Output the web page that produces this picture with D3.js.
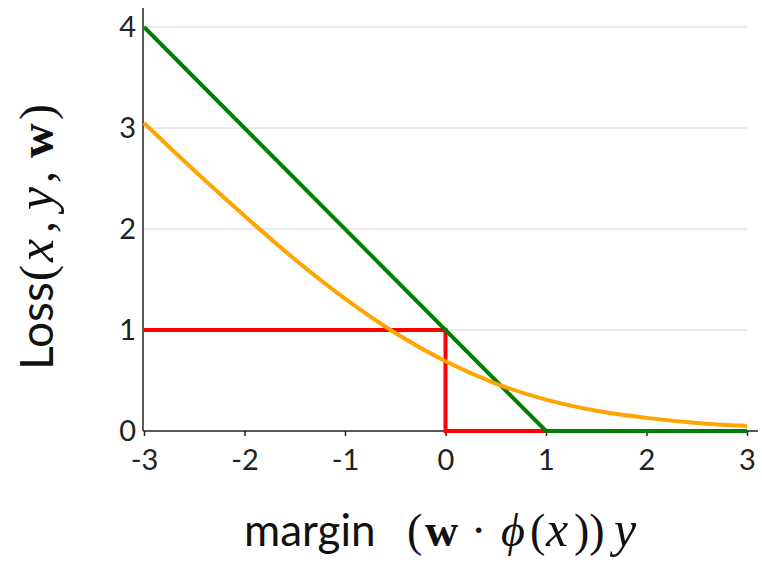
<!DOCTYPE html>
<html>
<head>
<meta charset="utf-8">
<script src="https://cdn.jsdelivr.net/npm/d3@7"></script>
<style>
	body { margin: 0; background: #fff; }
</style>
</head>
<body>
<div id="chart"></div>
<script>
const width = 762;
const height = 564;

// values
const xTicks = [-3, -2, -1, 0, 1, 2, 3];
const yTicks = [0, 1, 2, 3, 4];
const marginValues = [-3, -2.5, -2, -1.5, -1, -0.5, 0, 0.5, 1, 1.5, 2, 2.5, 3];
const logisticLoss = [3.05, 2.58, 2.13, 1.7, 1.31, 0.97, 0.69, 0.47, 0.31, 0.2, 0.13, 0.08, 0.05];
const hingeX = [-3, 1, 3];
const hingeY = [4, 0, 0];
const zeroOneX = [-3, 0, 0, 1];
const zeroOneY = [1, 1, 0, 0];

const x = d3.scaleLinear().domain([-3, 3]).range([144, 747]);
const y = d3.scaleLinear().domain([0, 4]).range([431, 27]);

const sans = "Lato, 'Open Sans', sans-serif";
const serif = "'Liberation Serif', 'DejaVu Serif', serif";

const svg = d3.select("#chart")
	.append("svg")
	.attr("width", width)
	.attr("height", height);

// gridlines
svg.append("g")
	.selectAll("line")
	.data(yTicks.filter((t) => t > 0))
	.enter()
	.append("line")
	.attr("x1", x(-3))
	.attr("x2", x(3))
	.attr("y1", (d) => y(d))
	.attr("y2", (d) => y(d))
	.attr("stroke", "#d4d4d4")
	.attr("stroke-width", 1);

// x axis
const xAxis = svg.append("g")
	.attr("transform", `translate(0, ${y(0)})`)
	.call(d3.axisBottom(x).tickValues(xTicks).tickSize(5).tickPadding(13).tickFormat(d3.format("d")));
xAxis.select(".domain").attr("d", `M${x(-3) - 1},0H${width - 4}`).attr("stroke", "#222").attr("stroke-width", 1.5);
xAxis.selectAll(".tick line").attr("stroke", "#222").attr("stroke-width", 1.5);
xAxis.selectAll(".tick text")
	.attr("font-family", sans)
	.attr("font-size", 29)
	.attr("fill", "#222")
	.text((d) => (d < 0 ? "-" + Math.abs(d) : d));

// y axis
const yAxis = svg.append("g")
	.attr("transform", `translate(${x(-3) - 1}, 0)`)
	.call(d3.axisLeft(y).tickValues(yTicks).tickSize(0).tickPadding(7).tickFormat(d3.format("d")));
yAxis.select(".domain").attr("d", `M0,8V${y(0)}`).attr("stroke", "#222").attr("stroke-width", 1.5);
yAxis.selectAll(".tick text")
	.attr("font-family", sans)
	.attr("font-size", 29)
	.attr("fill", "#222");

const line = d3.line().x((d) => x(d[0])).y((d) => y(d[1]));

// zero-one loss
svg.append("path")
	.datum(zeroOneX.map((v, i) => [v, zeroOneY[i]]))
	.attr("fill", "none")
	.attr("stroke", "#ff0000")
	.attr("stroke-width", 4)
	.attr("d", line);

// hinge loss
svg.append("path")
	.datum(hingeX.map((v, i) => [v, hingeY[i]]))
	.attr("fill", "none")
	.attr("stroke", "#008000")
	.attr("stroke-width", 4)
	.attr("d", line);

// logistic loss
svg.append("path")
	.datum(marginValues.map((v, i) => [v, logisticLoss[i]]))
	.attr("fill", "none")
	.attr("stroke", "#ffa500")
	.attr("stroke-width", 4)
	.attr("d", line.curve(d3.curveMonotoneX));

// x label: margin (w · ϕ(x))y
const xLabel = svg.append("text")
	.attr("y", 546)
	.attr("font-size", 46)
	.attr("fill", "#111");
xLabel.append("tspan").attr("x", 244).attr("font-family", sans).attr("font-size", 44).text("margin");
xLabel.append("tspan").attr("x", 407).attr("font-family", serif).text("(");
xLabel.append("tspan").attr("x", 425).attr("font-family", serif).attr("font-weight", "bold").text("w");
xLabel.append("tspan").attr("x", 471).attr("font-family", serif).text("·");
xLabel.append("tspan").attr("x", 501).attr("font-family", serif).attr("font-style", "italic").text("ϕ");
xLabel.append("tspan").attr("x", 530).attr("font-family", serif).text("(");
xLabel.append("tspan").attr("x", 546).attr("font-family", serif).attr("font-style", "italic").attr("font-size", 50).text("x");
xLabel.append("tspan").attr("x", 574).attr("font-family", serif).text("))");
xLabel.append("tspan").attr("x", 614).attr("font-family", serif).attr("font-style", "italic").attr("font-size", 50).text("y");

// y label: Loss(x, y, w)
const yLabel = svg.append("text")
	.attr("transform", "translate(53, 370) rotate(-90)")
	.attr("font-size", 48)
	.attr("fill", "#111");
yLabel.append("tspan").attr("x", 0).attr("font-family", sans).attr("font-size", 46).text("Loss");
yLabel.append("tspan").attr("x", 89).attr("font-family", serif).text("(");
yLabel.append("tspan").attr("x", 108).attr("font-family", serif).attr("font-style", "italic").attr("font-size", 52).text("x");
yLabel.append("tspan").attr("x", 137).attr("font-family", serif).text(",");
yLabel.append("tspan").attr("x", 160).attr("font-family", serif).attr("font-style", "italic").attr("font-size", 52).text("y");
yLabel.append("tspan").attr("x", 187).attr("font-family", serif).text(",");
yLabel.append("tspan").attr("x", 212).attr("font-family", serif).attr("font-weight", "bold").text("w");
yLabel.append("tspan").attr("x", 250).attr("font-family", serif).text(")");
</script>
</body>
</html>
